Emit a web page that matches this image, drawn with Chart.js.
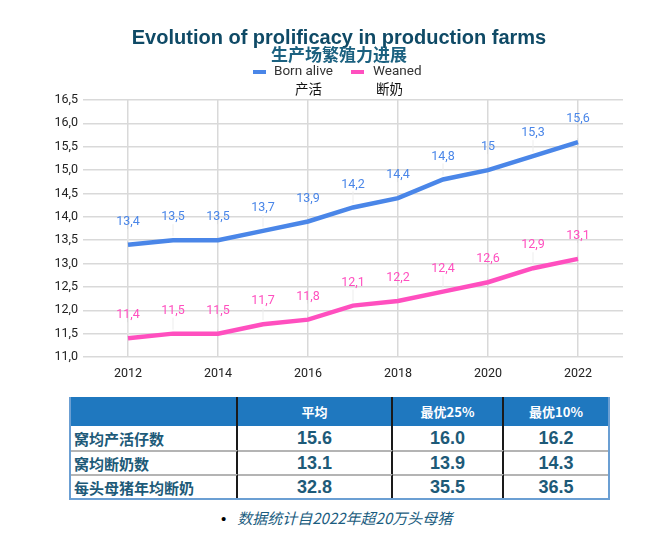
<!DOCTYPE html>
<html>
<head>
<meta charset="utf-8">
<script src="https://cdn.jsdelivr.net/npm/chart.js@4.4.1/dist/chart.umd.min.js"></script>
<style>
  body { margin: 0; background: #fff; width: 657px; height: 537px; overflow: hidden; position: relative; }
  #wrap { position: absolute; left: 0; top: 0; width: 657px; height: 392px; }
  #stats {
    position: absolute; left: 69px; top: 397px; width: 541px; box-sizing: border-box;
    border-collapse: separate; border-spacing: 0; table-layout: fixed;
    border-left: 2px solid #6b9fd3; border-right: 2px solid #6b9fd3; border-bottom: 2px solid #6b9fd3;
    font-family: "Noto Sans CJK SC", "Liberation Sans", sans-serif; font-weight: bold; color: #1d5a78;
  }
  #stats th, #stats td { box-sizing: border-box; }
  #stats th {
    background: #1f78bf; color: #fff; font-size: 13px; height: 29px; padding: 0;
    border-right: 2px solid #1a1a1a;
  }
  #stats td { height: 24px; padding: 0; border-right: 2px solid #1a1a1a; text-align: center;
    font-family: "Liberation Sans", Arial, sans-serif; font-size: 18px; }
  #stats td.lbl { text-align: left; padding-left: 3px; font-family: "Noto Sans CJK SC", sans-serif; font-size: 15px; }
  #stats tr:not(:first-child) td { border-top: 2px solid #b4b4b4; }
  #stats th:last-child, #stats td:last-child { border-right: none; }
  #note { position: absolute; left: 221px; top: 507px; font-size: 15px; white-space: nowrap; }
  #note .dot { font-family: "Liberation Sans", sans-serif; color: #000; margin-right: 11px; }
  #note .txt { font-family: "Noto Sans CJK SC", sans-serif; font-style: italic; color: #1b5d80; }
</style>
</head>
<body>
<div id="wrap"><canvas id="chart" width="657" height="392"></canvas></div>
<table id="stats"><thead></thead><tbody></tbody></table>
<div id="note"><span class="dot">•</span><span class="txt">数据统计自2022年超20万头母猪</span></div>
<script>
// chart data
const years = [2012, 2013, 2014, 2015, 2016, 2017, 2018, 2019, 2020, 2021, 2022];
const bornAlive = [13.4, 13.5, 13.5, 13.7, 13.9, 14.2, 14.4, 14.8, 15.0, 15.3, 15.6];
const weaned = [11.4, 11.5, 11.5, 11.7, 11.8, 12.1, 12.2, 12.4, 12.6, 12.9, 13.1];
const seriesNames = ['Born alive', 'Weaned'];
const seriesNamesZh = ['产活', '断奶'];
const xTickYears = [2012, 2014, 2016, 2018, 2020, 2022];

// table data
const tableCols = ['', '平均', '最优25%', '最优10%'];
const tableRows = ['窝均产活仔数', '窝均断奶数', '每头母猪年均断奶'];
const tableAvg = ['15.6', '13.1', '32.8'];
const tableTop25 = ['16.0', '13.9', '35.5'];
const tableTop10 = ['16.2', '14.3', '36.5'];

const colBlue = '#4a86e8';
const colPink = '#ff4fbf';

function comma(v) {
  return String(v).replace('.', ',');
}

// header: title, subtitle and two-line legend
const header = {
  id: 'header',
  afterDraw(chart) {
    const ctx = chart.ctx;
    const cx = 339;
    ctx.save();
    ctx.textAlign = 'center';
    ctx.textBaseline = 'middle';
    ctx.fillStyle = '#0f4a66';
    ctx.font = 'bold 20px "Liberation Sans", Arial, sans-serif';
    ctx.fillText('Evolution of prolificacy in production farms', cx, 38);
    ctx.fillStyle = '#1b6180';
    ctx.font = 'bold 17px "Noto Sans CJK SC", sans-serif';
    ctx.fillText('生产场繁殖力进展', cx, 55);

    ctx.textAlign = 'left';
    const items = [
      { sw: cx - 86, tx: cx - 65, zh: cx - 44, color: colBlue },
      { sw: cx + 12, tx: cx + 34, zh: cx + 37, color: colPink }
    ];
    items.forEach((it, i) => {
      ctx.fillStyle = it.color;
      ctx.fillRect(it.sw, 70, 13, 4);
      ctx.fillStyle = '#333';
      ctx.font = '13.5px Roboto, "Liberation Sans", sans-serif';
      ctx.fillText(seriesNames[i], it.tx, 72);
      ctx.fillStyle = '#111';
      ctx.font = '13.5px "Noto Sans CJK SC", sans-serif';
      ctx.fillText(seriesNamesZh[i], it.zh, 89);
    });
    ctx.restore();
  }
};

// value labels above each point, with a faint leader line
const valueLabels = {
  id: 'valueLabels',
  afterDatasetsDraw(chart) {
    const ctx = chart.ctx;
    ctx.save();
    chart.data.datasets.forEach((ds, di) => {
      const meta = chart.getDatasetMeta(di);
      meta.data.forEach((pt, i) => {
        ctx.strokeStyle = '#ededed';
        ctx.lineWidth = 1;
        ctx.beginPath();
        ctx.moveTo(pt.x, pt.y - 16);
        ctx.lineTo(pt.x, pt.y - 4);
        ctx.stroke();
        ctx.fillStyle = ds.borderColor;
        ctx.font = '12.5px Roboto, "Liberation Sans", sans-serif';
        ctx.textAlign = 'center';
        ctx.textBaseline = 'middle';
        ctx.fillText(comma(ds.data[i].y), pt.x, pt.y - 23);
      });
    });
    ctx.restore();
  }
};

new Chart(document.getElementById('chart'), {
  type: 'line',
  data: {
    datasets: [
      {
        label: seriesNames[0],
        data: years.map((y, i) => ({ x: y, y: bornAlive[i] })),
        borderColor: colBlue,
        backgroundColor: colBlue,
        borderWidth: 4.5,
        pointRadius: 0,
        tension: 0
      },
      {
        label: seriesNames[1],
        data: years.map((y, i) => ({ x: y, y: weaned[i] })),
        borderColor: colPink,
        backgroundColor: colPink,
        borderWidth: 4.5,
        pointRadius: 0,
        tension: 0
      }
    ]
  },
  options: {
    responsive: false,
    animation: false,
    devicePixelRatio: 1,
    layout: { padding: { top: 100, left: 39, right: 34, bottom: 5 } },
    plugins: {
      legend: { display: false },
      title: { display: false },
      tooltip: { enabled: false }
    },
    scales: {
      x: {
        type: 'linear',
        min: 2011,
        max: 2023,
        afterBuildTicks: (axis) => { axis.ticks = xTickYears.map(v => ({ value: v })); },
        afterFit: (axis) => { axis.height = 30; },
        border: { display: false },
        grid: { color: '#d9d9d9', lineWidth: 1.5, drawTicks: false },
        ticks: {
          padding: 9,
          color: '#222',
          font: { family: 'Roboto, "Liberation Sans", sans-serif', size: 12.5 },
          callback: (v) => String(v)
        }
      },
      y: {
        min: 11,
        max: 16.5,
        afterFit: (axis) => { axis.width = 44; },
        border: { display: false },
        grid: { color: '#d9d9d9', lineWidth: 1.5, drawTicks: false },
        ticks: {
          stepSize: 0.5,
          padding: 5,
          color: '#222',
          font: { family: 'Roboto, "Liberation Sans", sans-serif', size: 12.5 },
          callback: (v) => v.toFixed(1).replace('.', ',')
        }
      }
    }
  },
  plugins: [header, valueLabels]
});

// build the stats table
const thead = document.querySelector('#stats thead');
const hr = document.createElement('tr');
const widths = [167, 155, 111, 104];
tableCols.forEach((c, i) => {
  const th = document.createElement('th');
  th.textContent = c;
  th.style.width = widths[i] + 'px';
  hr.appendChild(th);
});
thead.appendChild(hr);
const tbody = document.querySelector('#stats tbody');
tableRows.forEach((r, i) => {
  const tr = document.createElement('tr');
  [r, tableAvg[i], tableTop25[i], tableTop10[i]].forEach((v, j) => {
    const td = document.createElement('td');
    td.textContent = v;
    if (j === 0) td.className = 'lbl';
    tr.appendChild(td);
  });
  tbody.appendChild(tr);
});
</script>
</body>
</html>
